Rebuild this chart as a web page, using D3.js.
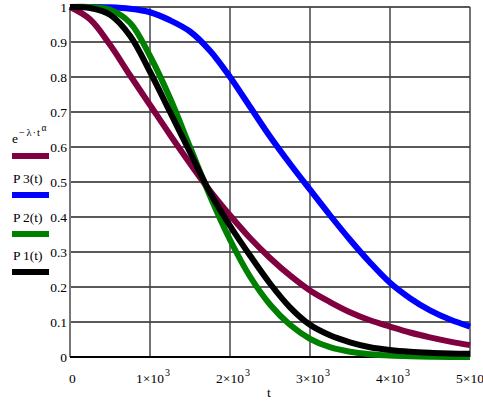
<!DOCTYPE html>
<html>
<head>
<meta charset="utf-8">
<script src="https://cdn.jsdelivr.net/npm/d3@7"></script>
<style>
  body { margin: 0; background: #fff; }
</style>
</head>
<body>
<svg width="483" height="408"></svg>
<script>
// time axis samples
const t = [0,250,500,750,1000,1250,1500,1750,2000,2250,2500,2750,3000,3250,3500,3750,4000,4250,4500,4750,5000]

// e^(-lambda t^alpha)
const expo = [1,0.965,0.892,0.805,0.72,0.635,0.553,0.475,0.405,0.34,0.283,0.233,0.19,0.157,0.128,0.105,0.087,0.07,0.056,0.044,0.034]
const p3 = [1,1,0.999,0.995,0.985,0.962,0.93,0.875,0.80,0.715,0.63,0.552,0.478,0.405,0.335,0.27,0.212,0.168,0.133,0.107,0.087]
const p2 = [1,1,0.992,0.955,0.86,0.74,0.60,0.46,0.335,0.23,0.15,0.092,0.052,0.028,0.015,0.008,0.004,0.002,0.001,0,0]
const p1 = [1,0.997,0.978,0.918,0.815,0.70,0.585,0.47,0.375,0.29,0.21,0.142,0.092,0.062,0.042,0.028,0.02,0.015,0.012,0.01,0.009]

const xTicks = [0,1000,2000,3000,4000,5000]
const yTicks = [0,0.1,0.2,0.3,0.4,0.5,0.6,0.7,0.8,0.9,1]
const legendNames = [['P','3(t)'],['P','2(t)'],['P','1(t)']]

const font = 'Liberation Serif'

const svg = d3.select('svg'),
  margin = {top:7,right:13,bottom:51,left:70},
  width = svg.attr('width') - margin.left - margin.right,
  height = svg.attr('height') - margin.top - margin.bottom

const x = d3.scaleLinear().domain([0,5000]).range([0,width]),
  y = d3.scaleLinear().domain([0,1]).range([height,0])

const container = svg.append('g')
  .attr('transform',`translate(${margin.left},${margin.top})`)

// grid
container.append('g').selectAll('line').data(yTicks).enter().append('line')
  .attr('x1',0).attr('x2',width)
  .attr('y1',y).attr('y2',y)
  .attr('stroke','#222')
  .attr('stroke-width',1.5)
container.append('g').selectAll('line').data(xTicks).enter().append('line')
  .attr('x1',x).attr('x2',x)
  .attr('y1',0).attr('y2',height)
  .attr('stroke',d => d==0 ? '#777' : '#444')
  .attr('stroke-width',d => d==0 ? 2 : 1.5)
container.append('line')
  .attr('x1',0).attr('x2',width)
  .attr('y1',height).attr('y2',height)
  .attr('stroke','#000')
  .attr('stroke-width',2)

// tick labels
container.append('g').selectAll('text').data(yTicks).enter().append('text')
  .attr('x',-3)
  .attr('y',y)
  .attr('dy','0.38em')
  .attr('text-anchor','end')
  .attr('font-family',font)
  .attr('font-size',13.5)
  .text(d => d3.format('~g')(d))

const xl = container.append('g').selectAll('text').data(xTicks).enter().append('text')
  .attr('x',x)
  .attr('y',height+26)
  .attr('font-family',font)
  .attr('font-size',13.5)
xl.filter(d => d==0).attr('x',-1).text('0')
xl.filter(d => d>0).append('tspan').text(d => `${d/1000}×10`)
xl.filter(d => d>0).append('tspan')
  .attr('dy',-7)
  .attr('dx',1)
  .attr('font-size',10)
  .text('3')
xl.each(function(d){
  if(d>0){
    // mantissa centred on the tick, exponent hangs to the right
    const w = this.firstChild.getComputedTextLength()
    d3.select(this).attr('x',x(d)-w/2)
  }
})

container.append('text')
  .attr('x',x(2500)-3)
  .attr('y',height+40)
  .attr('font-family',font)
  .attr('font-size',13.5)
  .text('t')

// curves
const series = [
  {values:expo,color:'#800040'},
  {values:p3,color:'#0000ff'},
  {values:p2,color:'#008000'},
  {values:p1,color:'#000000'}
]

const line = d3.line()
  .x((d,i) => x(t[i]))
  .y(d => y(d))
  .curve(d3.curveCatmullRom.alpha(0.5))

container.append('g').selectAll('path').data(series).enter().append('path')
  .attr('d',d => line(d.values))
  .attr('fill','none')
  .attr('stroke',d => d.color)
  .attr('stroke-width',6)

// legend
const legendY = [156,195,234,272]

svg.append('g').selectAll('line').data(series).enter().append('line')
  .attr('x1',12).attr('x2',49)
  .attr('y1',(d,i) => legendY[i]).attr('y2',(d,i) => legendY[i])
  .attr('stroke',d => d.color)
  .attr('stroke-width',6)

const lt = svg.append('g').selectAll('text').data(legendNames).enter().append('text')
  .attr('x',13)
  .attr('y',(d,i) => legendY[i+1]-12)
  .attr('font-family',font)
  .attr('font-size',13.5)
lt.append('tspan').text(d => d[0])
lt.append('tspan').attr('dx',2.5).text(d => d[1])

const formula = svg.append('text')
  .attr('x',12)
  .attr('y',143)
  .attr('font-family',font)
  .attr('font-size',13.5)
formula.append('tspan').text('e')
formula.append('tspan')
  .attr('dy',-7)
  .attr('dx',1)
  .attr('font-size',10.5)
  .text('−')
formula.append('tspan')
  .attr('dx',1.5)
  .attr('font-size',10.5)
  .text('λ')
formula.append('tspan')
  .attr('dx',1)
  .attr('font-size',10.5)
  .text('·')
formula.append('tspan')
  .attr('dx',1)
  .attr('font-size',10.5)
  .text('t')
formula.append('tspan')
  .attr('dy',-5)
  .attr('dx',1.5)
  .attr('font-size',9.5)
  .text('α')
</script>
</body>
</html>
